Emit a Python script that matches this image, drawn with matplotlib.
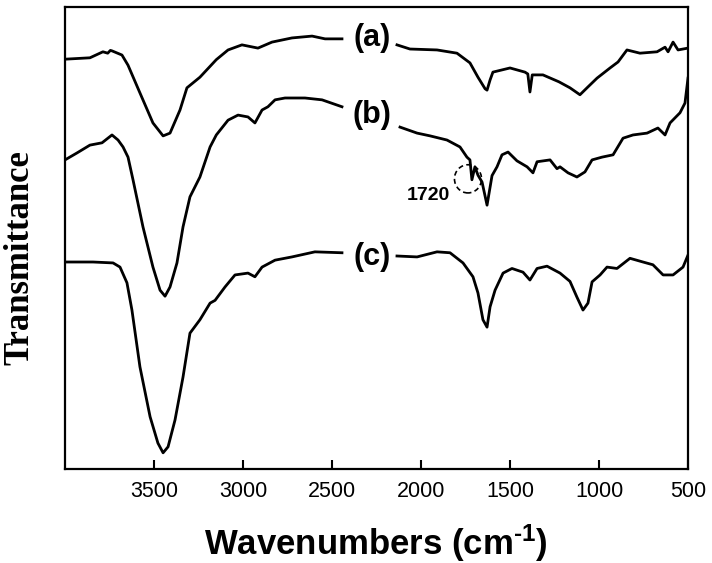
import numpy as np
import matplotlib
matplotlib.use('Agg')
import matplotlib.pyplot as plt
from matplotlib.patches import Ellipse

plt.rcParams['font.family'] = 'Liberation Sans'
plt.rcParams['mathtext.fontset'] = 'custom'
plt.rcParams['mathtext.rm'] = 'Liberation Sans:bold'
plt.rcParams['mathtext.it'] = 'Liberation Sans:bold'
plt.rcParams['mathtext.bf'] = 'Liberation Sans:bold'
plt.rcParams['mathtext.default'] = 'rm'

# spectra (wavenumber, transmittance a.u.), nan = gap at label
wn_a = [4000, 3860, 3787, 3760, 3745, 3736, 3680, 3646, 3579, 3506, 3449, 3410, 3354, 3315,
        3242, 3150, 3084, 3006, 2916, 2837, 2725, 2612, 2539, 2444, np.nan,
        2135, 2062, 1910, 1798, 1725, 1680, 1640, 1629, 1612, 1596, 1500, 1416, 1400, 1388,
        1375, 1360, 1315, 1225, 1163, 1107, 1062, 1011, 938, 893, 843, 770, 674, 629, 612,
        584, 556, 500]
t_a = [88.7, 89.0, 90.3, 90.0, 90.6, 90.5, 89.6, 87.4, 81.4, 74.9, 72.1, 72.7, 77.7, 82.5,
       84.8, 88.6, 90.7, 91.8, 91.1, 92.4, 93.3, 93.7, 93.1, 93.1, np.nan,
       91.8, 90.9, 90.7, 90.0, 87.9, 84.8, 82.3, 82.0, 84.2, 85.9, 86.8, 85.9, 85.5, 81.6,
       85.3, 85.3, 85.3, 83.8, 82.5, 81.0, 82.7, 84.6, 86.8, 88.1, 90.7, 90.0, 90.3, 91.3, 90.3,
       92.4, 90.7, 91.1]

wn_b = [4000, 3933, 3860, 3792, 3736, 3702, 3674, 3646, 3618, 3562, 3506, 3466, 3438, 3410,
        3371, 3337, 3298, 3242, 3185, 3150, 3084, 3028, 2972, 2933, 2893, 2860, 2820, 2764,
        2652, 2556, 2444, np.nan,
        2118, 2022, 1949, 1854, 1781, 1742, 1725, 1714, 1697, 1680, 1657, 1629, 1601, 1573,
        1545, 1511, 1461, 1404, 1371, 1348, 1275, 1236, 1219, 1174, 1124, 1079, 1039, 983,
        921, 865, 809, 730, 669, 629, 601, 545, 517, 506, 500]
t_b = [66.9, 68.4, 70.1, 70.6, 72.3, 71.2, 69.7, 67.5, 62.6, 52.4, 43.7, 38.7, 37.4, 39.4,
       44.6, 52.4, 58.9, 63.2, 69.7, 72.3, 75.5, 76.6, 76.2, 74.9, 77.7, 78.4, 79.9, 80.3,
       80.3, 79.9, 78.4, np.nan,
       74.0, 72.7, 72.1, 71.2, 69.7, 67.5, 66.9, 62.6, 65.4, 63.6, 62.1, 57.1, 63.5, 65.4,
       68.0, 68.6, 66.7, 65.4, 64.1, 66.5, 66.9, 65.0, 65.4, 64.1, 63.2, 64.3, 66.9, 67.5,
       68.0, 71.6, 72.3, 72.7, 73.8, 72.3, 74.9, 77.1, 79.2, 82.7, 84.6]

wn_c = [4000, 3843, 3730, 3691, 3652, 3624, 3579, 3522, 3478, 3449, 3421, 3382, 3337, 3298,
        3242, 3185, 3157, 3101, 3045, 2972, 2933, 2893, 2820, 2725, 2596, 2444, np.nan,
        2135, 2022, 1910, 1837, 1764, 1708, 1680, 1652, 1629, 1612, 1584, 1539, 1489, 1427,
        1388, 1348, 1292, 1219, 1163, 1124, 1090, 1062, 1039, 994, 955, 899, 826, 753, 697,
        640, 584, 528, 500]
t_c = [44.8, 44.8, 44.6, 43.7, 40.3, 34.4, 22.1, 11.3, 5.6, 3.5, 4.8, 10.6, 19.9, 29.4,
       32.3, 35.9, 36.5, 39.4, 42.0, 42.4, 41.6, 43.7, 45.2, 45.9, 47.0, 46.8, np.nan,
       46.1, 45.9, 47.0, 46.8, 44.6, 41.6, 38.1, 32.3, 30.7, 35.1, 38.7, 42.4, 43.4, 42.6,
       40.9, 43.4, 43.9, 42.4, 40.6, 37.2, 34.4, 35.9, 40.5, 42.0, 43.7, 43.4, 45.6, 44.8, 44.2,
       42.0, 42.0, 43.7, 46.3]

curve_names = ['(a)', '(b)', '(c)']
label_wn = [2275, 2275, 2275]
label_t = [93.3, 76.6, 45.9]
ticks = [3500, 3000, 2500, 2000, 1500, 1000, 500]

fig = plt.figure(figsize=(7.12, 5.63), dpi=100)
ax = fig.add_axes([0.0913, 0.167, 0.875, 0.8206])

for wn, t in [(wn_a, t_a), (wn_b, t_b), (wn_c, t_c)]:
    ax.plot(wn, t, color='black', lw=2.0, solid_joinstyle='round')

for name, x, y in zip(curve_names, label_wn, label_t):
    ax.text(x, y, name, ha='center', va='center', fontsize=22, fontweight='bold')

# 1720 shoulder marked with a dashed circle
ax.add_patch(Ellipse((1736, 62.8), 152, 6.1, fill=False, ls=(0, (3, 2)), lw=1.2, color='black'))
ax.text(1961, 59.1, '1720', ha='center', va='center', fontsize=14, fontweight='bold')

ax.set_xlim(4000, 500)
ax.set_ylim(0, 100)
ax.set_xticks(ticks)
ax.set_xticklabels([str(v) for v in ticks])
ax.tick_params(axis='x', direction='in', length=6.5, width=1.5, labelsize=15.5, pad=9)
ax.set_yticks([])
for s in ax.spines.values():
    s.set_linewidth(1.6)

fig.text(0.028, 0.542, 'Transmittance', rotation=90, ha='center', va='center',
         fontsize=25, fontweight='bold', family='Liberation Serif')
fig.text(0.528, 0.014, 'Wavenumbers (cm$^{\\text{-1}}$)', ha='center', va='baseline',
         fontsize=25, fontweight='bold')

fig.savefig('out.png', dpi=100)
